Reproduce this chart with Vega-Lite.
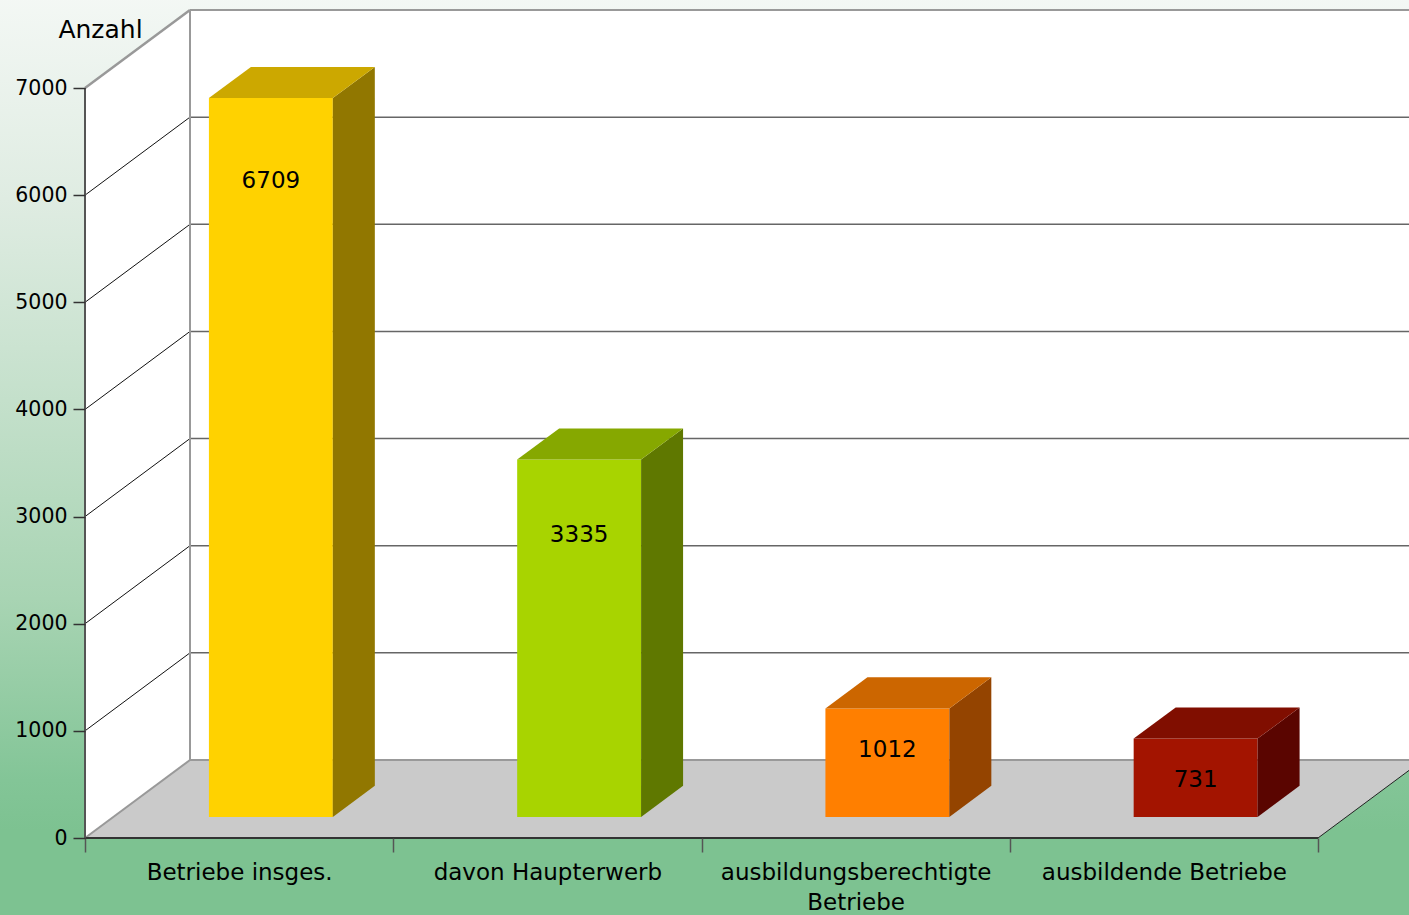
{
  "$schema": "https://vega.github.io/schema/vega-lite/v6.json",
  "width": 1324,
  "height": 828,
  "autosize": {"type": "none"},
  "padding": {"left": 85, "top": 10, "right": 0, "bottom": 77},
  "background": "#7dc291",
  "config": {"font": "DejaVu Sans", "view": {"stroke": null}},
  "datasets": {
    "bars": [
      {"cat": "Betriebe insges.", "i": 0, "value": 6709},
      {"cat": "davon Haupterwerb", "i": 1, "value": 3335},
      {"cat": "ausbildungsberechtigte Betriebe", "i": 2, "value": 1012},
      {"cat": "ausbildende Betriebe", "i": 3, "value": 731}
    ],
    "depth": [{"d": 0}, {"d": 1}],
    "grid": [{"v": 1000}, {"v": 2000}, {"v": 3000}, {"v": 4000}, {"v": 5000}, {"v": 6000}]
  },
  "resolve": {"scale": {"fill": "independent"}},
  "layer": [
    {
      "data": {"values": [{}]},
      "mark": {"type": "rect", "fill": {"gradient": "linear", "x1": 0, "y1": 0, "x2": 0, "y2": 1, "stops": [
        {"offset": 0, "color": "#f4f8f5"},
        {"offset": 0.223, "color": "#dfece2"},
        {"offset": 0.438, "color": "#c4e0cb"},
        {"offset": 0.652, "color": "#a8d4b3"},
        {"offset": 0.846, "color": "#83c597"},
        {"offset": 0.9, "color": "#7dc291"},
        {"offset": 1, "color": "#7dc291"}
      ]}},
      "encoding": {
        "x": {"datum": -0.3, "type": "quantitative", "scale": {"domain": [0, 4.2952], "nice": false, "zero": false},
          "axis": {"values": [0, 0.5, 1, 1.5, 2, 2.5, 3, 3.5, 4], "zindex": 2,
            "labelExpr": "datum.value == 0.5 ? 'Betriebe insges.' : datum.value == 1.5 ? 'davon Haupterwerb' : datum.value == 2.5 ? ['ausbildungsberechtigte', 'Betriebe'] : datum.value == 3.5 ? 'ausbildende Betriebe' : ''",
            "domain": false, "grid": false, "ticks": true, "tickSize": 14, "tickWidth": 1.5,
            "tickColor": {"condition": {"test": "datum.value % 1 === 0", "value": "#555"}, "value": "transparent"},
            "labelFontSize": 23, "labelColor": "#000", "labelPadding": 9, "labelLineHeight": 30, "labelLimit": 0,
            "labelOverlap": false, "labelBound": false, "labelFlush": false, "title": null}},
        "x2": {"datum": 4.4},
        "y": {"datum": -800, "type": "quantitative", "scale": {"domain": [0, 7728], "nice": false, "zero": false},
          "axis": {"values": [0, 1000, 2000, 3000, 4000, 5000, 6000, 7000], "format": "d", "zindex": 2,
            "domain": false, "grid": false, "tickSize": 12, "tickColor": "#333", "tickWidth": 1.5,
            "labelFontSize": 20.5, "labelPadding": 6, "labelColor": "#000",
            "title": "Anzahl", "titleAngle": 0, "titleX": 15, "titleY": 27.7, "titleAlign": "center",
            "titleBaseline": "alphabetic", "titleFontSize": 25, "titleFontWeight": "normal", "titleColor": "#000"}},
        "y2": {"datum": 7900}
      }
    },
    {
      "data": {"values": [{}]},
      "mark": {"type": "rect", "fill": "#ffffff"},
      "encoding": {
        "x": {"datum": 0.34063, "type": "quantitative"},
        "x2": {"datum": 4.4},
        "y": {"datum": 728, "type": "quantitative"},
        "y2": {"datum": 7728}
      }
    },
    {
      "data": {"name": "depth"},
      "transform": [
        {"calculate": "datum.d * 0.34063", "as": "wx"},
        {"calculate": "datum.d * 728", "as": "wy"},
        {"calculate": "7000 + datum.d * 728", "as": "wy2"}
      ],
      "mark": {"type": "area", "orient": "vertical", "fill": "#ffffff", "interpolate": "linear"},
      "encoding": {
        "x": {"field": "wx", "type": "quantitative"},
        "y": {"field": "wy2", "type": "quantitative", "stack": null},
        "y2": {"field": "wy"}
      }
    },
    {
      "data": {"name": "depth"},
      "transform": [
        {"calculate": "datum.d * 728", "as": "fy"},
        {"calculate": "datum.d * 0.34063", "as": "fx"},
        {"calculate": "4 + datum.d * 0.34063", "as": "fx2"}
      ],
      "mark": {"type": "area", "orient": "horizontal", "fill": "#cacaca", "interpolate": "linear"},
      "encoding": {
        "y": {"field": "fy", "type": "quantitative"},
        "x": {"field": "fx", "type": "quantitative", "stack": null},
        "x2": {"field": "fx2"}
      }
    },
    {
      "data": {"name": "grid"},
      "transform": [{"calculate": "datum.v + 728", "as": "v2"}],
      "mark": {"type": "rule", "stroke": "#666666", "strokeWidth": 1.5},
      "encoding": {
        "x": {"datum": 0.34063, "type": "quantitative"},
        "x2": {"datum": 4.4},
        "y": {"field": "v2", "type": "quantitative"}
      }
    },
    {
      "data": {"name": "grid"},
      "transform": [{"calculate": "datum.v + 728", "as": "v2"}],
      "mark": {"type": "rule", "stroke": "#111111", "strokeWidth": 1},
      "encoding": {
        "x": {"datum": 0, "type": "quantitative"},
        "x2": {"datum": 0.34063},
        "y": {"field": "v", "type": "quantitative"},
        "y2": {"field": "v2"}
      }
    },
    {
      "data": {"values": [{}]},
      "mark": {"type": "rule", "stroke": "#999999", "strokeWidth": 2.5},
      "encoding": {
        "x": {"datum": 0, "type": "quantitative"},
        "x2": {"datum": 0.34063},
        "y": {"datum": 7000, "type": "quantitative"},
        "y2": {"datum": 7728}
      }
    },
    {
      "data": {"values": [{}]},
      "mark": {"type": "rule", "stroke": "#999999", "strokeWidth": 2},
      "encoding": {
        "x": {"datum": 0.34063, "type": "quantitative"},
        "y": {"datum": 728, "type": "quantitative"},
        "y2": {"datum": 7728}
      }
    },
    {
      "data": {"values": [{}]},
      "mark": {"type": "rule", "stroke": "#999999", "strokeWidth": 2},
      "encoding": {
        "x": {"datum": 0.34063, "type": "quantitative"},
        "x2": {"datum": 4.4},
        "y": {"datum": 7728, "type": "quantitative"}
      }
    },
    {
      "data": {"values": [{}]},
      "mark": {"type": "rule", "stroke": "#999999", "strokeWidth": 2},
      "encoding": {
        "x": {"datum": 0.34063, "type": "quantitative"},
        "x2": {"datum": 4.4},
        "y": {"datum": 728, "type": "quantitative"}
      }
    },
    {
      "data": {"values": [{}]},
      "mark": {"type": "rule", "stroke": "#999999", "strokeWidth": 2},
      "encoding": {
        "x": {"datum": 0, "type": "quantitative"},
        "x2": {"datum": 0.34063},
        "y": {"datum": 0, "type": "quantitative"},
        "y2": {"datum": 728}
      }
    },
    {
      "data": {"values": [{}]},
      "mark": {"type": "rule", "stroke": "#222222", "strokeWidth": 1},
      "encoding": {
        "x": {"datum": 4, "type": "quantitative"},
        "x2": {"datum": 4.34063},
        "y": {"datum": 0, "type": "quantitative"},
        "y2": {"datum": 728}
      }
    },
    {
      "data": {"values": [{}]},
      "mark": {"type": "rule", "stroke": "#333333", "strokeWidth": 2},
      "encoding": {
        "x": {"datum": 0, "type": "quantitative"},
        "x2": {"datum": 4},
        "y": {"datum": 0, "type": "quantitative"}
      }
    },
    {
      "data": {"values": [{}]},
      "mark": {"type": "rule", "stroke": "#555555", "strokeWidth": 2},
      "encoding": {
        "x": {"datum": 0, "type": "quantitative"},
        "y": {"datum": 0, "type": "quantitative"},
        "y2": {"datum": 7000}
      }
    },
    {
      "data": {"name": "bars"},
      "transform": [
        {"calculate": "datum.i + 0.402", "as": "x0"},
        {"calculate": "datum.i + 0.804", "as": "x1"},
        {"calculate": "datum.value + 196.6", "as": "y1"},
        {"calculate": "196.6", "as": "y0"}
      ],
      "mark": {"type": "rect"},
      "encoding": {
        "x": {"field": "x0", "type": "quantitative"},
        "x2": {"field": "x1"},
        "y": {"field": "y1", "type": "quantitative"},
        "y2": {"field": "y0"},
        "fill": {"field": "cat", "type": "nominal", "legend": null,
          "scale": {"domain": ["Betriebe insges.", "davon Haupterwerb", "ausbildungsberechtigte Betriebe", "ausbildende Betriebe"],
            "range": ["#ffd200", "#a8d400", "#ff7f00", "#a31400"]}}
      }
    },
    {
      "data": {"name": "bars"},
      "transform": [
        {"calculate": "[0, 1]", "as": "t"},
        {"flatten": ["t"]},
        {"calculate": "datum.i + 0.804 + datum.t * 0.13625", "as": "sx"},
        {"calculate": "datum.value + 196.6 + datum.t * 291.2", "as": "sy"},
        {"calculate": "196.6 + datum.t * 291.2", "as": "sy2"}
      ],
      "mark": {"type": "area", "orient": "vertical", "interpolate": "linear"},
      "encoding": {
        "x": {"field": "sx", "type": "quantitative"},
        "y": {"field": "sy", "type": "quantitative", "stack": null},
        "y2": {"field": "sy2"},
        "detail": {"field": "cat"},
        "fill": {"field": "cat", "type": "nominal", "legend": null,
          "scale": {"domain": ["Betriebe insges.", "davon Haupterwerb", "ausbildungsberechtigte Betriebe", "ausbildende Betriebe"],
            "range": ["#917700", "#5f7800", "#944400", "#5a0500"]}}
      }
    },
    {
      "data": {"name": "bars"},
      "transform": [
        {"calculate": "[0, 1]", "as": "t"},
        {"flatten": ["t"]},
        {"calculate": "datum.i + 0.402 + datum.t * 0.13625", "as": "tx"},
        {"calculate": "datum.i + 0.804 + datum.t * 0.13625", "as": "tx2"},
        {"calculate": "datum.value + 196.6 + datum.t * 291.2", "as": "ty"}
      ],
      "mark": {"type": "area", "orient": "horizontal", "interpolate": "linear"},
      "encoding": {
        "y": {"field": "ty", "type": "quantitative"},
        "x": {"field": "tx", "type": "quantitative", "stack": null},
        "x2": {"field": "tx2"},
        "detail": {"field": "cat"},
        "fill": {"field": "cat", "type": "nominal", "legend": null,
          "scale": {"domain": ["Betriebe insges.", "davon Haupterwerb", "ausbildungsberechtigte Betriebe", "ausbildende Betriebe"],
            "range": ["#cca800", "#86a800", "#cc6600", "#800e00"]}}
      }
    },
    {
      "data": {"name": "bars"},
      "transform": [
        {"calculate": "datum.i + 0.603", "as": "lx"},
        {"calculate": "datum.value - min(577, 190 + max(0, datum.value - 1012) * 0.1365)", "as": "ly"}
      ],
      "mark": {"type": "text", "fontSize": 23, "color": "#000000", "baseline": "middle", "align": "center"},
      "encoding": {
        "x": {"field": "lx", "type": "quantitative"},
        "y": {"field": "ly", "type": "quantitative"},
        "text": {"field": "value", "type": "quantitative", "format": "d"}
      }
    }
  ]
}
